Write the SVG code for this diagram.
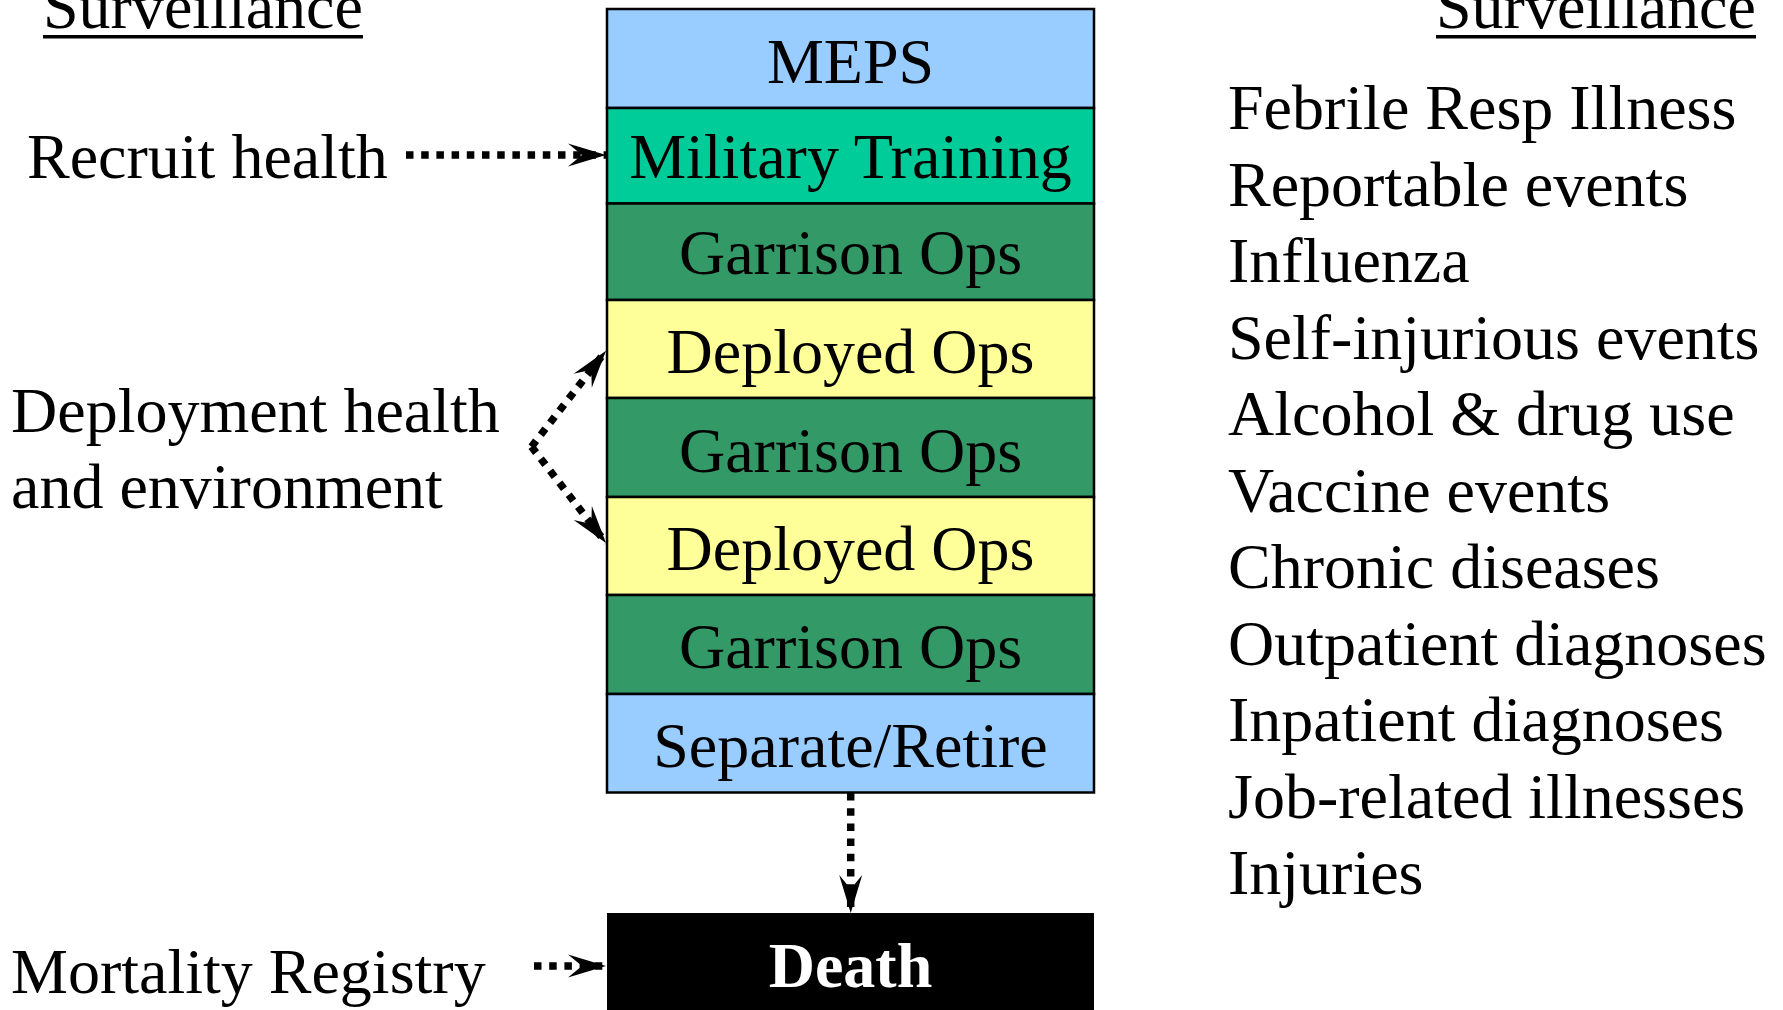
<svg xmlns="http://www.w3.org/2000/svg" width="1783" height="1010" viewBox="0 0 1783 1010">
  <style>
    text { font-family: "Liberation Serif", "Times New Roman", serif; font-size: 64px; fill: #000; }
    .mid { text-anchor: middle; }
    .stage { stroke: #000; stroke-width: 2.5; }
    .flow { fill: none; stroke: #000; stroke-width: 7.5; stroke-dasharray: 7.5 7.7; }
    .head { fill: #000; }
  </style>
  <defs>
    <marker id="arrow" viewBox="-40 -13 42 26" refX="0" refY="0" markerWidth="42" markerHeight="26" markerUnits="userSpaceOnUse" orient="auto">
      <path class="head" d="M0,0 L-38,-11.5 L-24,0 L-38,11.5 Z"/>
    </marker>
  </defs>

  <rect width="1783" height="1010" fill="#fff"/>

  <!-- section headings -->
  <g id="heading-left">
    <text x="43" y="28">Surveillance</text>
    <rect x="43" y="35" width="320" height="3.5" fill="#000"/>
  </g>
  <g id="heading-right">
    <text x="1436" y="28">Surveillance</text>
    <rect x="1436" y="35" width="320" height="3.5" fill="#000"/>
  </g>

  <!-- career stages -->
  <g id="stage-meps">
    <rect class="stage" x="607" y="9" width="487" height="99" fill="#99CCFF"/>
    <text class="mid" x="850.5" y="83">MEPS</text>
  </g>
  <g id="stage-training">
    <rect class="stage" x="607" y="108" width="487" height="95.5" fill="#00CC99"/>
    <text class="mid" x="850.5" y="178">Military Training</text>
  </g>
  <g id="stage-garrison-1">
    <rect class="stage" x="607" y="203.5" width="487" height="96.5" fill="#339966"/>
    <text class="mid" x="850.5" y="273.5">Garrison Ops</text>
  </g>
  <g id="stage-deployed-1">
    <rect class="stage" x="607" y="300" width="487" height="98" fill="#FFFF99"/>
    <text class="mid" x="850.5" y="372.5">Deployed Ops</text>
  </g>
  <g id="stage-garrison-2">
    <rect class="stage" x="607" y="398" width="487" height="99" fill="#339966"/>
    <text class="mid" x="850.5" y="471.5">Garrison Ops</text>
  </g>
  <g id="stage-deployed-2">
    <rect class="stage" x="607" y="497" width="487" height="98" fill="#FFFF99"/>
    <text class="mid" x="850.5" y="570">Deployed Ops</text>
  </g>
  <g id="stage-garrison-3">
    <rect class="stage" x="607" y="595" width="487" height="99" fill="#339966"/>
    <text class="mid" x="850.5" y="668">Garrison Ops</text>
  </g>
  <g id="stage-separate">
    <rect class="stage" x="607" y="694" width="487" height="98.5" fill="#99CCFF"/>
    <text class="mid" x="850.5" y="767">Separate/Retire</text>
  </g>
  <g id="stage-death">
    <rect x="607" y="913" width="487" height="110" fill="#000"/>
    <text class="mid" x="850.5" y="987" font-weight="bold" style="fill:#fff">Death</text>
  </g>

  <!-- surveillance sources -->
  <g id="source-recruit">
    <text x="27" y="178">Recruit health</text>
  </g>
  <g id="source-deployment">
    <text x="11" y="432">Deployment health</text>
    <text x="11" y="508">and environment</text>
  </g>
  <g id="source-mortality">
    <text x="11" y="993">Mortality Registry</text>
  </g>

  <!-- surveillance topics -->
  <g id="topics">
    <text x="1228" y="129">Febrile Resp Illness</text>
    <text x="1228" y="206">Reportable events</text>
    <text x="1228" y="282">Influenza</text>
    <text x="1228" y="359">Self-injurious events</text>
    <text x="1228" y="435">Alcohol &amp; drug use</text>
    <text x="1228" y="512">Vaccine events</text>
    <text x="1228" y="588">Chronic diseases</text>
    <text x="1228" y="665">Outpatient diagnoses</text>
    <text x="1228" y="741">Inpatient diagnoses</text>
    <text x="1228" y="818">Job-related illnesses</text>
    <text x="1228" y="894">Injuries</text>
  </g>

  <!-- connectors -->
  <g id="connectors">
    <path class="flow" d="M406,155 L606,155" marker-end="url(#arrow)"/>
    <path class="flow" d="M531.5,446.7 L606,350.7" marker-end="url(#arrow)"/>
    <path class="flow" d="M531.5,446.7 L606,543" marker-end="url(#arrow)"/>
    <path class="flow" d="M850.7,793 L850.7,913" marker-end="url(#arrow)"/>
    <path class="flow" d="M534,966 L606,966" marker-end="url(#arrow)"/>
  </g>
</svg>
